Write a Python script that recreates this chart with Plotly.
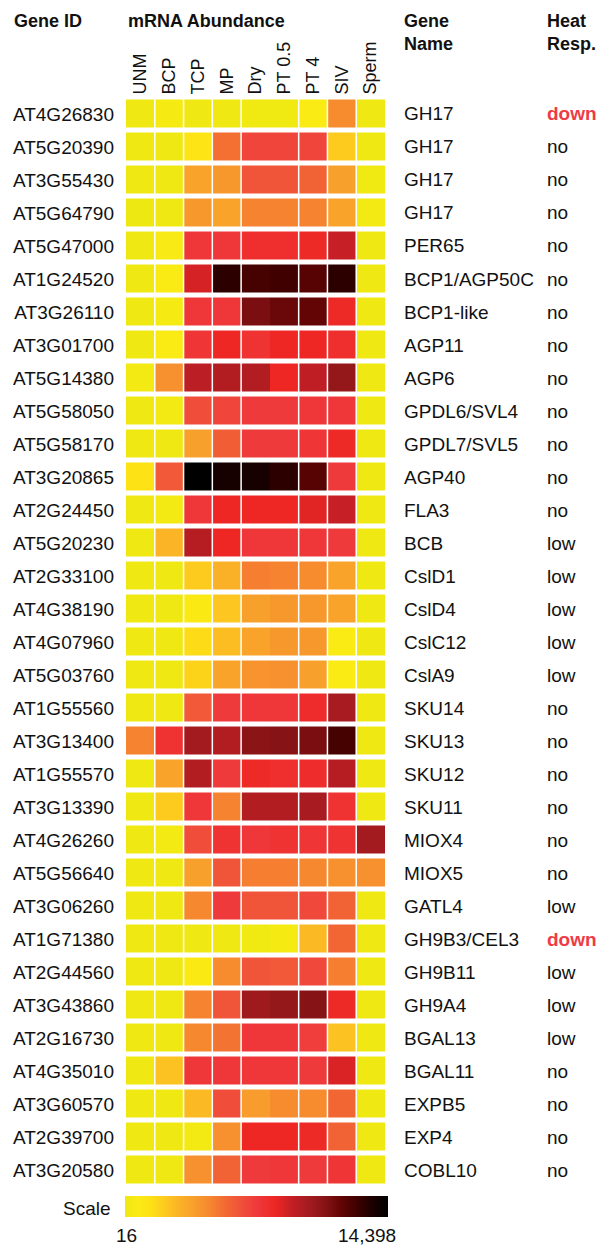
import plotly.graph_objects as go

W, H = 597, 1247

stages = ["UNM", "BCP", "TCP", "MP", "Dry", "PT 0.5", "PT 4", "SIV", "Sperm"]

gene_ids = ["AT4G26830", "AT5G20390", "AT3G55430", "AT5G64790", "AT5G47000", "AT1G24520",
            "AT3G26110", "AT3G01700", "AT5G14380", "AT5G58050", "AT5G58170", "AT3G20865",
            "AT2G24450", "AT5G20230", "AT2G33100", "AT4G38190", "AT4G07960", "AT5G03760",
            "AT1G55560", "AT3G13400", "AT1G55570", "AT3G13390", "AT4G26260", "AT5G56640",
            "AT3G06260", "AT1G71380", "AT2G44560", "AT3G43860", "AT2G16730", "AT4G35010",
            "AT3G60570", "AT2G39700", "AT3G20580"]

gene_names = ["GH17", "GH17", "GH17", "GH17", "PER65", "BCP1/AGP50C", "BCP1-like", "AGP11",
              "AGP6", "GPDL6/SVL4", "GPDL7/SVL5", "AGP40", "FLA3", "BCB", "CslD1", "CslD4",
              "CslC12", "CslA9", "SKU14", "SKU13", "SKU12", "SKU11", "MIOX4", "MIOX5", "GATL4",
              "GH9B3/CEL3", "GH9B11", "GH9A4", "BGAL13", "BGAL11", "EXPB5", "EXP4", "COBL10"]

heat_resp = ["down", "no", "no", "no", "no", "no", "no", "no", "no", "no", "no", "no", "no",
             "low", "low", "low", "low", "low", "no", "no", "no", "no", "no", "no", "low",
             "down", "low", "low", "low", "no", "no", "no", "no"]

# mRNA abundance per stage (one value per gene, top to bottom)
unm = [50, 60, 50, 40, 60, 50, 50, 50, 300, 50, 50, 1310, 50, 60, 50, 50, 50, 60, 50, 4760,
       50, 60, 50, 50, 50, 60, 50, 50, 60, 50, 50, 60, 50]
bcp = [450, 50, 60, 50, 590, 740, 450, 740, 4330, 300, 60, 6060, 300, 2890, 60, 50, 60, 50,
       60, 7640, 3610, 2170, 300, 50, 60, 60, 50, 60, 50, 2460, 60, 50, 60]
tcp = [50, 1170, 3610, 4040, 7350, 8790, 7350, 7490, 9360, 6490, 3750, 14398, 7350, 9510,
       2170, 880, 1600, 1890, 6060, 10080, 9650, 7350, 6490, 3750, 4620, 50, 880, 4760, 4620,
       7350, 2750, 300, 4330]
mp = [50, 5340, 4040, 3610, 7350, 13100, 7350, 8210, 9650, 6780, 5910, 13680, 8210, 8210,
      3040, 2320, 2600, 3610, 7210, 9650, 7210, 4760, 7640, 6200, 7210, 60, 4470, 6200, 5190,
      7350, 6490, 4330, 5770]
dry = [160, 6780, 6200, 4760, 7780, 12530, 11230, 7640, 9650, 7210, 7210, 13680, 8210, 7350,
       4910, 3750, 3610, 4190, 7350, 10800, 8070, 9650, 7350, 4910, 6200, 160, 6200, 10230,
       7350, 7350, 3900, 8210, 7210]
pt05 = [160, 6780, 6200, 4760, 7780, 12670, 11660, 8210, 8210, 7210, 7210, 13100, 8210, 7350,
        4760, 4040, 4040, 4330, 7350, 10950, 7780, 9650, 7640, 4910, 6200, 450, 6060, 10520,
        7350, 7350, 4470, 8210, 7350]
pt4 = [740, 6780, 5770, 4760, 8070, 12100, 11810, 8210, 9220, 7350, 7490, 12100, 8500, 7350,
       4470, 4040, 4040, 3750, 7930, 11230, 7930, 9940, 7490, 4620, 6630, 2750, 6630, 10950,
       7060, 7210, 4470, 8070, 7210]
siv = [4470, 2170, 3750, 3610, 9080, 13100, 8070, 7780, 10520, 7350, 8070, 7210, 9080, 7210,
       3610, 3610, 740, 740, 9940, 12530, 9510, 7640, 7640, 4330, 5770, 5620, 4910, 8070, 2460,
       8650, 5620, 5770, 7490]
sperm = [50, 50, 160, 300, 50, 50, 50, 50, 50, 50, 50, 50, 50, 50, 50, 50, 50, 50, 50, 50,
         50, 50, 10080, 4330, 50, 50, 50, 50, 50, 50, 50, 50, 50]

scale_min, scale_max = 16, 14398

columns = [unm, bcp, tcp, mp, dry, pt05, pt4, siv, sperm]
z = [[col[i] for col in columns] for i in range(len(gene_ids))]

colorscale = [
    [0.00, "#eee812"], [0.05, "#fbeb14"], [0.10, "#fde015"], [0.15, "#fdcb1e"],
    [0.20, "#fbb426"], [0.26, "#f8a02c"], [0.32, "#f6882f"], [0.38, "#f26a33"],
    [0.44, "#f0513a"], [0.50, "#ef3a3c"], [0.57, "#ee2724"], [0.64, "#c01e25"],
    [0.70, "#a31b1f"], [0.76, "#861315"], [0.82, "#640505"], [0.88, "#400000"],
    [0.94, "#1a0000"], [1.00, "#000000"],
]

FONT = "Liberation Sans, Arial, Helvetica, sans-serif"
TXT = "#111111"
BODY = 19

x0px, x1px = 126, 385
y0px, y1px = 97.5, 1186.5

fig = go.Figure()
fig.add_trace(go.Heatmap(
    z=z, x=stages, y=gene_ids,
    colorscale=colorscale, zmin=scale_min, zmax=scale_max,
    xgap=0, ygap=5,
    hoverinfo="x+y+z",
    colorbar=dict(
        orientation="h", lenmode="pixels", len=263, thickness=21,
        x=256.5 / W, xanchor="center", y=(H - 1217) / H, yanchor="bottom",
        xpad=0, ypad=0, outlinewidth=0, showticklabels=False, ticks="",
    ),
))

# white separators between stage columns (none between Dry and PT 0.5)
for b in [0.5, 1.5, 2.5, 3.5, 5.5, 6.5, 7.5]:
    fig.add_shape(type="line", xref="x", yref="paper", x0=b, x1=b,
                  y0=1 - y1px / H, y1=1 - y0px / H,
                  line=dict(color="white", width=1.5), layer="above")

ann = []
for gid, name, resp in zip(gene_ids, gene_names, heat_resp):
    ann.append(dict(x=402 / W, xref="paper", y=gid, yref="y", text=name, showarrow=False,
                    xanchor="left", yanchor="middle",
                    font=dict(family=FONT, size=BODY, color=TXT)))
    if resp == "down":
        f = dict(family=FONT, size=BODY, color="#ef3b45", weight="bold")
    else:
        f = dict(family=FONT, size=BODY, color=TXT)
    ann.append(dict(x=545 / W, xref="paper", y=gid, yref="y", text=resp, showarrow=False,
                    xanchor="left", yanchor="middle", font=f))

hfont = dict(family=FONT, size=18, color=TXT, weight="bold")
ann += [
    dict(x=12 / W, y=1 - 21 / H, xref="paper", yref="paper", text="Gene ID", showarrow=False,
         xanchor="left", yanchor="middle", font=hfont),
    dict(x=126 / W, y=1 - 21 / H, xref="paper", yref="paper", text="mRNA Abundance",
         showarrow=False, xanchor="left", yanchor="middle", font=hfont),
    dict(x=402 / W, y=1 - 32.5 / H, xref="paper", yref="paper", text="Gene<br>Name",
         showarrow=False, xanchor="left", yanchor="middle", align="left", font=hfont),
    dict(x=545 / W, y=1 - 32.5 / H, xref="paper", yref="paper", text="Heat<br>Resp.",
         showarrow=False, xanchor="left", yanchor="middle", align="left", font=hfont),
    dict(x=113 / W, y=1 - 1208 / H, xref="paper", yref="paper", text="Scale",
         showarrow=False, xanchor="right", yanchor="middle",
         font=dict(family=FONT, size=BODY, color=TXT)),
    dict(x=126 / W, y=1 - 1235 / H, xref="paper", yref="paper", text=f"{scale_min:,}",
         showarrow=False, xanchor="center", yanchor="middle",
         font=dict(family=FONT, size=BODY, color=TXT)),
    dict(x=398 / W, y=1 - 1235 / H, xref="paper", yref="paper", text=f"{scale_max:,}",
         showarrow=False, xanchor="right", yanchor="middle",
         font=dict(family=FONT, size=BODY, color=TXT)),
]

fig.update_layout(
    width=W, height=H, margin=dict(l=0, r=0, t=0, b=0),
    paper_bgcolor="white", plot_bgcolor="white",
    font=dict(family=FONT, color=TXT),
    annotations=ann, showlegend=False,
    xaxis=dict(domain=[x0px / W, x1px / W], side="top", tickangle=-90,
               tickfont=dict(family=FONT, size=18, color=TXT), showgrid=False,
               zeroline=False, showline=False, ticks="", automargin=False,
               ticklabelstandoff=2),
    yaxis=dict(domain=[1 - y1px / H, 1 - y0px / H], autorange="reversed",
               tickfont=dict(family=FONT, size=BODY, color=TXT), showgrid=False,
               zeroline=False, showline=False, ticks="", automargin=False,
               ticklabelstandoff=11),
)

fig.write_html(
    "out.html",
    config={"displayModeBar": False},
    post_script="document.body.style.margin='0';document.body.style.padding='0';"
                "document.documentElement.style.overflow='hidden';",
)
